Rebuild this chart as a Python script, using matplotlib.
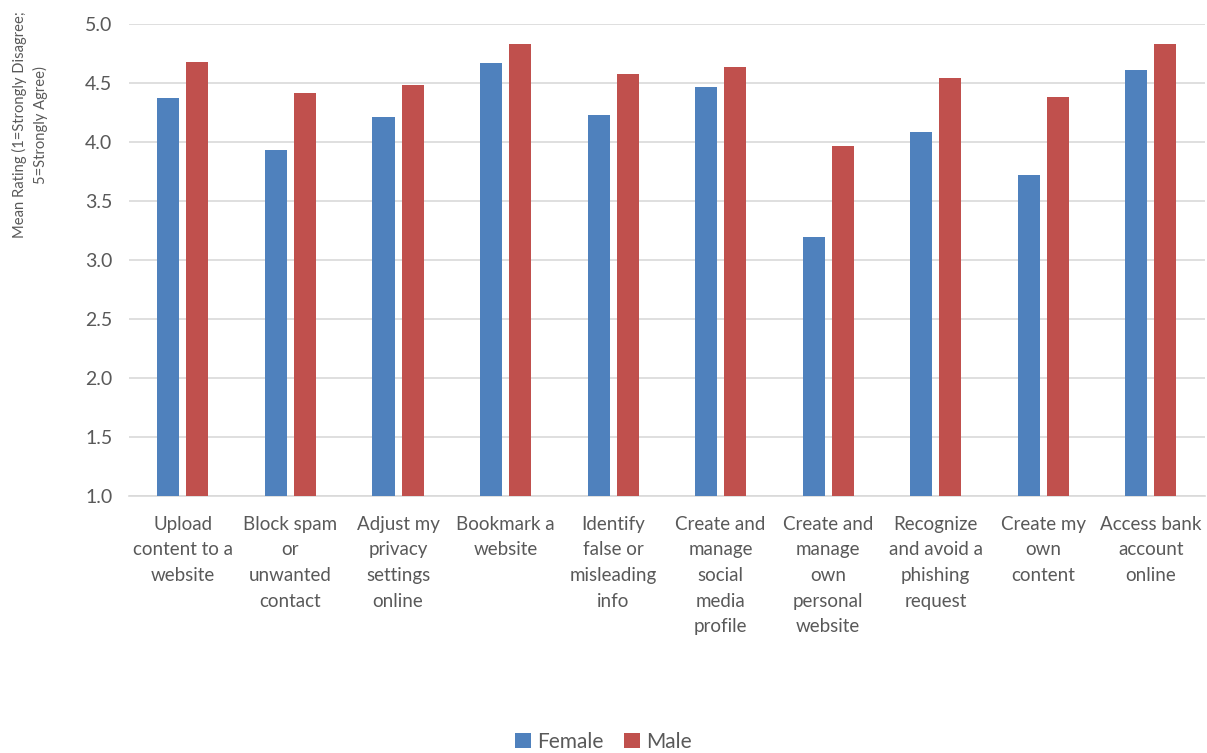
import matplotlib
matplotlib.use('Agg')
import matplotlib.pyplot as plt
import numpy as np

# values
categories = [
    "Upload\ncontent to a\nwebsite",
    "Block spam\nor\nunwanted\ncontact",
    "Adjust my\nprivacy\nsettings\nonline",
    "Bookmark a\nwebsite",
    "Identify\nfalse or\nmisleading\ninfo",
    "Create and\nmanage\nsocial\nmedia\nprofile",
    "Create and\nmanage\nown\npersonal\nwebsite",
    "Recognize\nand avoid a\nphishing\nrequest",
    "Create my\nown\ncontent",
    "Access bank\naccount\nonline",
]
female = [4.37, 3.93, 4.21, 4.67, 4.23, 4.47, 3.20, 4.09, 3.72, 4.61]
male = [4.68, 4.42, 4.48, 4.83, 4.58, 4.64, 3.97, 4.54, 4.38, 4.83]
yticks = [1.0, 1.5, 2.0, 2.5, 3.0, 3.5, 4.0, 4.5, 5.0]

text_color = '#595959'
plt.rcParams['font.family'] = ['Lato', 'DejaVu Sans']

fig = plt.figure(figsize=(12.07, 7.53), dpi=100)
ax = fig.add_axes([0.107, 0.341, 0.891, 0.627])

x = np.arange(len(categories))
w = 0.205
off = 0.135
ax.bar(x - off, female, w, bottom=0, color='#4F81BD', label='Female', zorder=3)
ax.bar(x + off, male, w, bottom=0, color='#C0504D', label='Male', zorder=3)

ax.set_ylim(1.0, 5.0)
ax.set_xlim(-0.5, len(categories) - 0.5)
ax.set_yticks(yticks)
ax.set_yticklabels([f"{v:.1f}" for v in yticks], fontsize=14, color=text_color)
ax.set_xticks(x)
ax.set_xticklabels(categories, fontsize=13.5, color=text_color, linespacing=1.62, va='top')
ax.tick_params(axis='both', length=0)
ax.tick_params(axis='x', pad=14)
ax.tick_params(axis='y', pad=12)

ax.grid(axis='y', color='#d9d9d9', linewidth=1.2, zorder=0)
for s in ['top', 'right', 'left']:
    ax.spines[s].set_visible(False)
ax.spines['bottom'].set_color('#d9d9d9')
ax.spines['bottom'].set_linewidth(1.2)

fig.text(0.025, 0.834, "Mean Rating (1=Strongly Disagree;\n5=Strongly Agree)",
         rotation=90, ha='center', va='center', fontsize=10.6, color=text_color,
         linespacing=1.5)

fig.legend(loc='center', bbox_to_anchor=(0.5, 0.015), ncol=2, frameon=False,
           fontsize=15, handlelength=0.75, handleheight=0.75, handletextpad=0.3,
           columnspacing=1.0, labelcolor=text_color)

fig.savefig('out.png', dpi=100)
